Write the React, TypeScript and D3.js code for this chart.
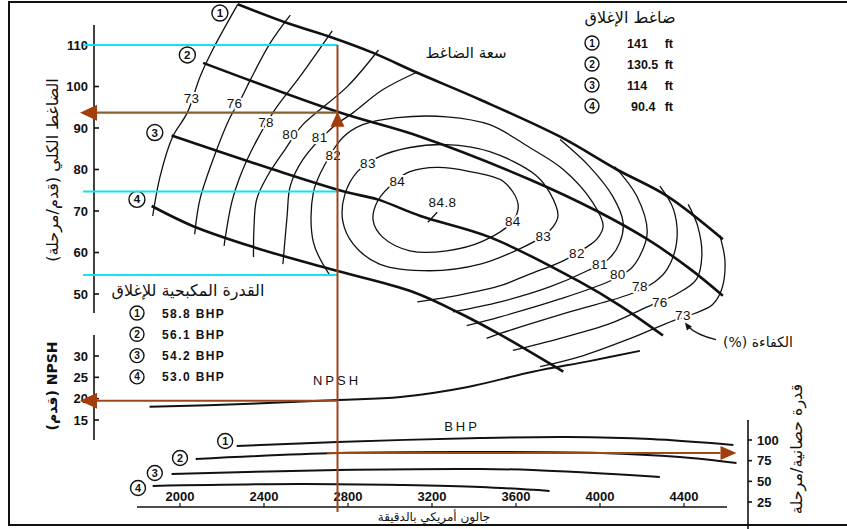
import React from 'react';
import * as d3 from 'd3';

const W = 847;
const H = 529;

// tick values
const FLOW_TICKS = [2000, 2400, 2800, 3200, 3600, 4000, 4400];
const HEAD_TICKS = [50, 60, 70, 80, 90, 100, 110];
const NPSH_TICKS = [15, 20, 25, 30];
const BHP_TICKS = [25, 50, 75, 100];

// shutoff legends
const SHUTOFF_HEAD = [141, 130.5, 114, 90.4];
const SHUTOFF_BHP = [58.8, 56.1, 54.2, 53.0];

// head-capacity curves per impeller, [gpm, ft]
const HEAD_1 = [[2275, 119.8], [2510, 115.3], [2730, 111.7], [2920, 108.1], [3130, 103.3], [3430, 96.8], [3810, 87.9], [4080, 80.0], [4320, 73.6], [4585, 63.2]];
const HEAD_2 = [[2110, 105.7], [2750, 93.9], [3145, 87.9], [3665, 77.6], [3985, 70.0], [4225, 63.2], [4430, 56.0], [4585, 49.6]];
const HEAD_3 = [[1960, 88.2], [2445, 80.0], [2795, 74.5], [2940, 72.8], [3145, 68.8], [3475, 63.7], [3905, 52.9], [4095, 47.2], [4300, 40.0]];
const HEAD_4 = [[1865, 71.2], [2060, 66.4], [2350, 61.3], [2715, 56.0], [3110, 50.5], [3335, 45.3], [3525, 40.2], [3825, 31.3]];
const HEAD_CURVES = [HEAD_1, HEAD_2, HEAD_3, HEAD_4];
const HEAD_MARKERS = [[2190, 117.7], [2035, 107.6], [1880, 88.9], [1795, 72.8]];

// efficiency contours (%), [gpm, ft]
const EFF_73_L = [[2275, 119.8], [2155, 108.8], [2095, 102.3], [2035, 93.7], [1965, 87.9], [1905, 78.3], [1870, 68.8]];
const EFF_73_R = [[4570, 64.2], [4595, 58.0], [4580, 51.2], [4535, 47.4], [4450, 45.3], [4350, 43.6], [4145, 39.3], [3905, 34.9], [3715, 32.5]];
const EFF_76_L = [[2525, 117.2], [2430, 110.5], [2335, 101.6], [2295, 97.5], [2240, 92.7], [2175, 84.8], [2095, 72.8], [2070, 64.4]];
const EFF_76_R = [[4420, 71.6], [4465, 66.4], [4485, 59.2], [4460, 53.6], [4365, 50.0], [4225, 46.9], [4050, 42.9], [3810, 39.3], [3585, 36.4]];
const EFF_78_L = [[2725, 113.4], [2570, 102.3], [2445, 93.9], [2320, 82.4], [2250, 72.8], [2210, 61.6]];
const EFF_78_R = [[4285, 76.0], [4350, 70.4], [4365, 62.5], [4320, 56.0], [4260, 52.9], [4145, 50.0], [3855, 45.7], [3525, 40.5], [3460, 39.3]];
const EFF_80_L = [[2945, 108.8], [2795, 99.9], [2585, 90.8], [2500, 84.8], [2415, 78.3], [2365, 72.8], [2352, 65.6], [2350, 58.9]];
const EFF_80_R = [[4070, 80.7], [4175, 73.6], [4225, 64.9], [4190, 59.2], [4145, 56.0], [4050, 53.2], [3810, 48.8], [3525, 44.5], [3365, 42.4]];
const EFF_81_L = [[3130, 103.5], [2965, 99.2], [2825, 93.7], [2730, 90.3], [2585, 82.4], [2525, 76.0], [2510, 68.8], [2490, 57.2]];
const EFF_81_R = [[3810, 87.2], [3950, 80.7], [4060, 73.6], [4110, 67.3], [4095, 62.5], [4040, 58.4], [3940, 55.6], [3760, 51.7], [3525, 48.1], [3300, 45.7]];
const EFF_82 = [[2715, 54.4], [2635, 62.5], [2635, 74.5], [2690, 81.2], [2775, 87.7], [2870, 90.8], [3035, 92.5], [3270, 92.7], [3475, 90.8], [3665, 85.3], [3825, 80.0], [3965, 72.1], [4015, 66.4], [3985, 63.2], [3945, 61.6], [3825, 58.0], [3665, 54.8], [3525, 52.0], [3335, 49.8], [3130, 48.1]];
const EFF_83 = [[2950, 83.1], [2845, 79.5], [2785, 74.0], [2775, 67.6], [2825, 62.0], [2950, 57.2], [3190, 55.6], [3430, 57.2], [3635, 61.3], [3730, 64.0], [3775, 66.1], [3800, 68.8], [3760, 74.5], [3690, 78.8], [3475, 84.3], [3270, 86.0], [3095, 85.3]];
const EFF_84 = [[3035, 77.6], [2940, 72.3], [2920, 67.6], [2965, 63.7], [3095, 60.4], [3270, 60.4], [3445, 62.8], [3585, 67.6], [3610, 71.6], [3540, 77.1], [3380, 79.5], [3225, 80.5], [3095, 79.5]];
const BEP_TICK = [[3180, 67.3], [3225, 69.7]];
const OPEN_CONTOURS = [EFF_73_L, EFF_73_R, EFF_76_L, EFF_76_R, EFF_78_L, EFF_78_R, EFF_80_L, EFF_80_R, EFF_81_L, EFF_81_R, EFF_82];
const CLOSED_CONTOURS = [EFF_83, EFF_84];

const EFF_LABELS = [
  ['73', 2055, 97.1], ['76', 2260, 95.9], ['78', 2410, 91.3], ['80', 2525, 88.4], ['81', 2665, 87.9],
  ['82', 2730, 83.4], ['83', 2895, 81.5], ['84', 3035, 77.1], ['84.8', 3250, 72.1], ['84', 3585, 67.6],
  ['83', 3730, 64.0], ['82', 3890, 59.9], ['81', 4000, 57.2], ['80', 4085, 54.8], ['78', 4190, 52.0],
  ['76', 4285, 48.1], ['73', 4395, 44.8],
];

// NPSH required, [gpm, ft]
const NPSH_REQ = [[1855, 18.1], [2335, 18.8], [2750, 19.7], [3050, 20.4], [3365, 22.7], [3680, 26.3], [3950, 28.8], [4190, 31.2]];

// brake horsepower per impeller, [gpm, bhp]
const BHP_1 = [[2270, 92.7], [2750, 97.6], [3430, 102.4], [3845, 103.6], [4240, 101.2], [4635, 94.0]];
const BHP_2 = [[2075, 77.0], [2750, 84.3], [3430, 85.5], [4000, 84.3], [4380, 79.4], [4650, 72.2]];
const BHP_3 = [[1960, 58.9], [2750, 63.7], [3430, 64.9], [3680, 63.7], [4285, 55.3]];
const BHP_4 = [[1870, 44.4], [2570, 46.8], [3050, 45.6], [3430, 43.2], [3760, 38.3]];
const BHP_CURVES = [BHP_1, BHP_2, BHP_3, BHP_4];
const BHP_MARKERS = [[2215, 98.8], [2000, 78.2], [1880, 60.1], [1800, 42.0]];

// reading guides
const READ_Q = 2750;
const READ_H = 93.7;
const READ_NPSH = 19.5;
const READ_BHP = 84.3;
const GUIDE_HEADS = [110, 74.7, 54.6];
const BHP_ARROW = [2700, 4650];

const x = d3.scaleLinear().domain([2000, 4400]).range([180, 684]);
const hy = d3.scaleLinear().domain([50, 110]).range([294, 45]);
const ny = d3.scaleLinear().domain([15, 30]).range([420, 356]);
const by = d3.scaleLinear().domain([25, 100]).range([502, 440]);

const line = (ys: any, closed = false) =>
  d3.line<number[]>()
    .x(d => x(d[0]))
    .y(d => ys(d[1]))
    .curve(closed ? d3.curveCatmullRomClosed.alpha(0.5) : d3.curveCatmullRom.alpha(0.5));

const LATIN = '"Liberation Sans", Arial, sans-serif';
const ARABIC = '"DejaVu Sans", sans-serif';
const INK = '#111';
const CYAN = '#12e3ee';
const BROWN = '#a0461c';
const OLIVE = '#85612f';
const HEAD_RED = '#a33e0c';

const AXIS_X = 94;
const RIGHT_X = 748;
const BASE_Y = 507;

function Circled({ cx, cy, n, r = 8 }: { cx: number; cy: number; n: number; r?: number }) {
  return (
    <g>
      <circle cx={cx} cy={cy} r={r} fill="white" stroke={INK} strokeWidth={1.4} />
      <text x={cx} y={cy + r * 0.5} textAnchor="middle" fontSize={r * 1.45} fontWeight="bold" fontFamily={LATIN} fill={INK}>{n}</text>
    </g>
  );
}

export default function App() {
  const gx = x(READ_Q);
  return (
    <div style={{ position: 'absolute', left: 0, top: 0 }}>
      <svg width={W} height={H} style={{ display: 'block', background: 'white' }}>
        {/* frame */}
        <path d={`M${W + 2},2 H9 V525 H${W + 2}`} fill="none" stroke={INK} strokeWidth={2} />

        {/* efficiency contours */}
        <g fill="none" stroke={INK} strokeWidth={1.3}>
          {OPEN_CONTOURS.map((c, i) => <path key={i} d={line(hy)(c) || ''} />)}
          {CLOSED_CONTOURS.map((c, i) => <path key={'c' + i} d={line(hy, true)(c) || ''} />)}
          <path d={d3.line<number[]>().x(d => x(d[0])).y(d => hy(d[1]))(BEP_TICK) || ''} />
        </g>

        {/* head curves */}
        <g fill="none" stroke={INK} strokeWidth={2.6}>
          {HEAD_CURVES.map((c, i) => <path key={i} d={line(hy)(c) || ''} />)}
        </g>

        {/* contour labels */}
        <g fontFamily={LATIN} fontSize={13.5} fill={INK} textAnchor="middle" letterSpacing={0.4}
          stroke="white" strokeWidth={4} style={{ paintOrder: 'stroke' }}>
          {EFF_LABELS.map(([t, q, h], i) => (
            <text key={i} x={x(q as number)} y={hy(h as number) + 4.8}>{t}</text>
          ))}
        </g>

        {HEAD_MARKERS.map(([q, h], i) => <Circled key={i} cx={x(q)} cy={hy(h)} n={i + 1} />)}

        {/* efficiency note */}
        <text x={758} y={347} fontFamily={ARABIC} fontSize={14} fill={INK} textAnchor="middle" style={{ direction: 'rtl' }}>الكفاءة (%)</text>
        <path d={`M${x(4395) + 33},${hy(44.8) + 24} Q${x(4395) + 14},${hy(44.8) + 20} ${x(4395) + 4},${hy(44.8) + 10}`} fill="none" stroke={INK} strokeWidth={1.3} />
        <polygon points={`${x(4395) + 2},${hy(44.8) + 7} ${x(4395) + 4},${hy(44.8) + 15} ${x(4395) + 9},${hy(44.8) + 11}`} fill={INK} />

        <text x={466} y={58} fontFamily={ARABIC} fontSize={15} fill={INK} textAnchor="middle" style={{ direction: 'rtl' }}>سعة الضاغط</text>

        {/* shutoff head legend */}
        <text x={630} y={23} fontFamily={ARABIC} fontSize={16} fill={INK} textAnchor="middle" style={{ direction: 'rtl' }}>ضاغط الإغلاق</text>
        {SHUTOFF_HEAD.map((v, i) => {
          const cy = 43 + i * 21;
          return (
            <g key={i} fontFamily={LATIN} fontSize={12.5} fontWeight="bold" fill={INK}>
              <Circled cx={592} cy={cy} n={i + 1} r={7} />
              <text x={v < 100 ? 631 : 627} y={cy + 4.5}>{v}</text>
              <text x={673} y={cy + 4.5} textAnchor="end">ft</text>
            </g>
          );
        })}

        {/* head axis */}
        <line x1={AXIS_X} x2={AXIS_X} y1={25} y2={313} stroke={INK} strokeWidth={1.6} />
        {HEAD_TICKS.map(t => (
          <g key={t}>
            <line x1={AXIS_X} x2={AXIS_X + 5} y1={hy(t)} y2={hy(t)} stroke={INK} strokeWidth={1.6} />
            <text x={88} y={hy(t) + 4.5} textAnchor="end" fontFamily={LATIN} fontSize={13} fontWeight="bold" fill={INK}>{t}</text>
          </g>
        ))}
        <text transform="translate(58,170) rotate(-90)" textAnchor="middle" fontFamily={ARABIC} fontSize={16} fill={INK} style={{ direction: 'rtl' }}>الضاغط الكلي (قدم/مرحلة)</text>

        {/* shutoff bhp legend */}
        <text x={188} y={296} fontFamily={ARABIC} fontSize={16} fill={INK} textAnchor="middle" style={{ direction: 'rtl' }}>القدرة المكبحية للإغلاق</text>
        {SHUTOFF_BHP.map((v, i) => {
          const cy = 313 + i * 21.3;
          return (
            <g key={i}>
              <Circled cx={137} cy={cy} n={i + 1} r={7} />
              <text x={162} y={cy + 4.5} fontFamily={LATIN} fontSize={12} fontWeight="bold" letterSpacing={1.4} fill={INK}>{v.toFixed(1)} BHP</text>
            </g>
          );
        })}

        {/* NPSH axis and curve */}
        <line x1={AXIS_X} x2={AXIS_X} y1={335} y2={440} stroke={INK} strokeWidth={1.6} />
        {NPSH_TICKS.map(t => (
          <g key={t}>
            <line x1={AXIS_X} x2={AXIS_X + 5} y1={ny(t)} y2={ny(t)} stroke={INK} strokeWidth={1.6} />
            <text x={88} y={ny(t) + 4.5} textAnchor="end" fontFamily={LATIN} fontSize={13} fontWeight="bold" fill={INK}>{t}</text>
          </g>
        ))}
        <text transform="translate(57,386) rotate(-90)" textAnchor="middle" fontFamily={ARABIC} fontSize={14} fontWeight="bold" fill={INK}>(قدم) NPSH</text>
        <path d={line(ny)(NPSH_REQ) || ''} fill="none" stroke={INK} strokeWidth={2} />
        <text x={337} y={385} textAnchor="middle" fontFamily={LATIN} fontSize={13} letterSpacing={3} fill={INK}>NPSH</text>

        {/* BHP curves */}
        <g fill="none" stroke={INK} strokeWidth={2}>
          {BHP_CURVES.map((c, i) => <path key={i} d={line(by)(c) || ''} />)}
        </g>
        {BHP_MARKERS.map(([q, b], i) => <Circled key={i} cx={x(q)} cy={by(b)} n={i + 1} r={7.5} />)}
        <text x={462} y={431} textAnchor="middle" fontFamily={LATIN} fontSize={13} letterSpacing={3} fill={INK}>BHP</text>

        {/* BHP axis */}
        <line x1={RIGHT_X} x2={RIGHT_X} y1={420} y2={H} stroke={INK} strokeWidth={1.6} />
        {BHP_TICKS.map(t => (
          <g key={t}>
            <line x1={RIGHT_X} x2={RIGHT_X + 4} y1={by(t)} y2={by(t)} stroke={INK} strokeWidth={1.6} />
            <text x={757} y={by(t) + 4.5} fontFamily={LATIN} fontSize={13} fontWeight="bold" fill={INK}>{t}</text>
          </g>
        ))}
        <text transform="translate(802,449) rotate(-90)" textAnchor="middle" fontFamily={ARABIC} fontSize={16} fill={INK} style={{ direction: 'rtl' }}>قدرة حصانية/مرحلة</text>

        {/* flow axis */}
        <line x1={137} x2={727} y1={BASE_Y} y2={BASE_Y} stroke={INK} strokeWidth={1.6} />
        {FLOW_TICKS.map(t => (
          <g key={t}>
            <line x1={x(t)} x2={x(t)} y1={BASE_Y - 4} y2={BASE_Y} stroke={INK} strokeWidth={1.2} />
            <text x={x(t)} y={501} textAnchor="middle" fontFamily={LATIN} fontSize={13} fontWeight="bold" fill={INK}>{t}</text>
          </g>
        ))}
        <text x={434} y={521} textAnchor="middle" fontFamily={ARABIC} fontSize={12} fill={INK} style={{ direction: 'rtl' }}>جالون أمريكي بالدقيقة</text>

        {/* reading guides */}
        {GUIDE_HEADS.map(h => (
          <line key={h} x1={83} x2={gx} y1={hy(h)} y2={hy(h)} stroke={CYAN} strokeWidth={2} />
        ))}
        <line x1={gx} x2={gx} y1={hy(110)} y2={512} stroke={BROWN} strokeWidth={2} />
        <line x1={97} x2={gx} y1={hy(READ_H)} y2={hy(READ_H)} stroke={OLIVE} strokeWidth={2.2} />
        <polygon points={`80,${hy(READ_H)} 97,${hy(READ_H) - 8} 97,${hy(READ_H) + 8}`} fill={HEAD_RED} />
        <polygon points={`${gx},${hy(READ_H) - 1} ${gx - 7},${hy(READ_H) + 14} ${gx + 7},${hy(READ_H) + 14}`} fill={HEAD_RED} />
        <line x1={97} x2={gx} y1={ny(READ_NPSH)} y2={ny(READ_NPSH)} stroke={BROWN} strokeWidth={2} />
        <polygon points={`80,${ny(READ_NPSH)} 97,${ny(READ_NPSH) - 8} 97,${ny(READ_NPSH) + 8}`} fill={HEAD_RED} />
        <line x1={x(BHP_ARROW[0])} x2={x(BHP_ARROW[1]) - 16} y1={by(READ_BHP)} y2={by(READ_BHP)} stroke={BROWN} strokeWidth={2} />
        <polygon points={`${x(BHP_ARROW[1])},${by(READ_BHP)} ${x(BHP_ARROW[1]) - 16},${by(READ_BHP) - 7} ${x(BHP_ARROW[1]) - 16},${by(READ_BHP) + 7}`} fill={HEAD_RED} />
      </svg>
    </div>
  );
}
